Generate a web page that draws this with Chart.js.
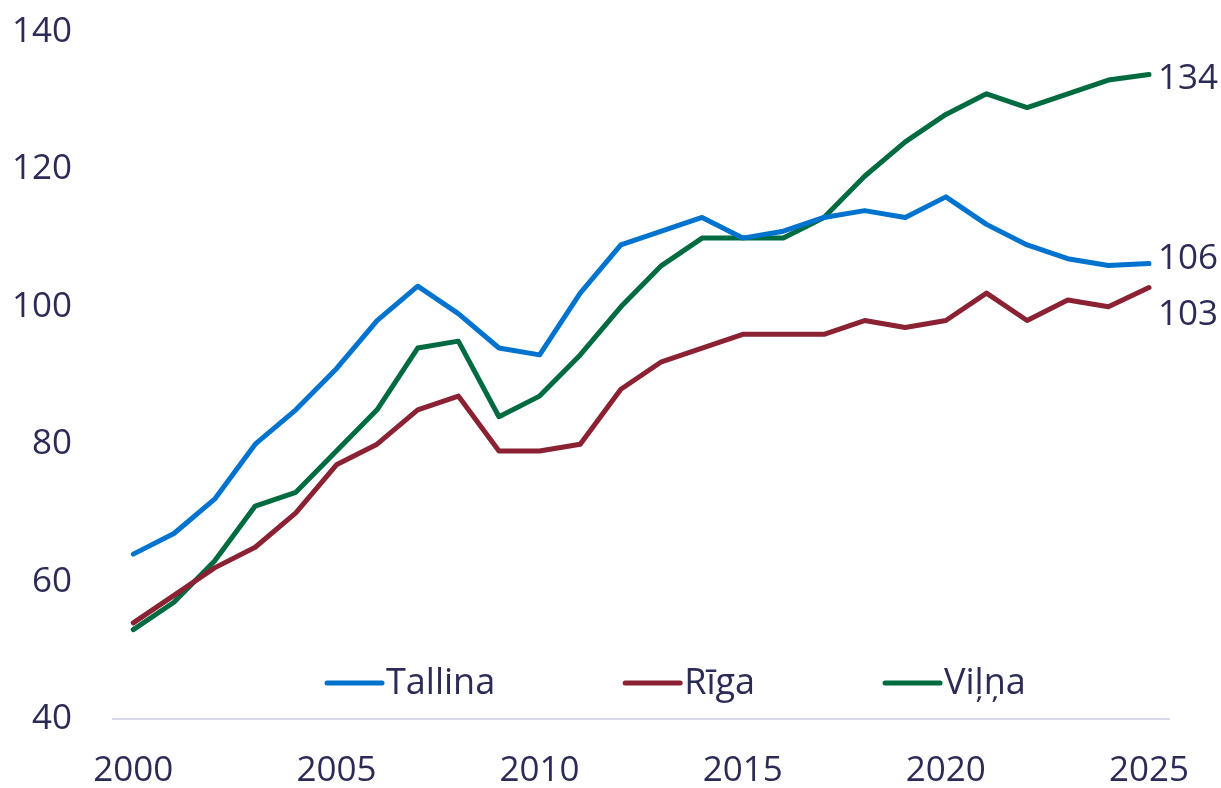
<!DOCTYPE html>
<html>
<head>
<meta charset="utf-8">
<script src="https://cdn.jsdelivr.net/npm/chart.js@4"></script>
<style>
  html, body { margin: 0; padding: 0; background: #ffffff; }
  #wrap { width: 1221px; height: 788px; }
</style>
</head>
<body>
<div id="wrap"><canvas id="chart" width="1221" height="788"></canvas></div>
<script>
// years on the x axis
const years = [
  '2000', '2001', '2002', '2003', '2004', '2005', '2006', '2007', '2008',
  '2009', '2010', '2011', '2012', '2013', '2014', '2015', '2016', '2017',
  '2018', '2019', '2020', '2021', '2022', '2023', '2024', '2025'
];

const tallina = [64, 67, 72, 80, 85, 91, 98, 103, 99, 94, 93, 102, 109, 111, 113, 110, 111, 113, 114, 113, 116, 112, 109, 107, 106, 106.3];
const riga = [54, 58, 62, 65, 70, 77, 80, 85, 87, 79, 79, 80, 88, 92, 94, 96, 96, 96, 98, 97, 98, 102, 98, 101, 100, 102.8];
const vilna = [53, 57, 63, 71, 73, 79, 85, 94, 95, 84, 87, 93, 100, 106, 110, 110, 110, 113, 119, 124, 128, 131, 129, 131, 133, 133.8];

const yTicks = [40, 60, 80, 100, 120, 140];

const TEXT = '#2b2b55';
const FONT = "'Open Sans', 'Noto Sans', sans-serif";

// legend drawn inside the plot area, near the bottom
const insideLegend = {
  id: 'insideLegend',
  afterDatasetsDraw(chart) {
    const ctx = chart.ctx;
    const area = chart.chartArea;
    let x = area.left + 214;
    const y = area.bottom - 36;
    ctx.save();
    ctx.font = '36px ' + FONT;
    ctx.textBaseline = 'middle';
    ctx.textAlign = 'left';
    chart.data.datasets.forEach(ds => {
      ctx.strokeStyle = ds.borderColor;
      ctx.lineWidth = 5;
      ctx.lineCap = 'round';
      ctx.beginPath();
      ctx.moveTo(x, y);
      ctx.lineTo(x + 55, y);
      ctx.stroke();
      ctx.fillStyle = TEXT;
      ctx.fillText(ds.label, x + 59, y + 1);
      x += 59 + ctx.measureText(ds.label).width + 130;
    });
    ctx.restore();
  }
};

// last value of each series written right of the line end
const endLabels = {
  id: 'endLabels',
  afterDatasetsDraw(chart) {
    const ctx = chart.ctx;
    const minGap = 56;
    const items = chart.data.datasets.map((ds, i) => {
      const meta = chart.getDatasetMeta(i);
      const pt = meta.data[meta.data.length - 1];
      return { x: pt.x, y: pt.y, text: String(Math.round(ds.data[ds.data.length - 1])) };
    }).sort((a, b) => a.y - b.y);
    // push overlapping labels apart, mostly moving the lower one
    for (let i = 1; i < items.length; i++) {
      const gap = items[i].y - items[i - 1].y;
      if (gap < minGap) {
        const need = minGap - gap;
        items[i - 1].y -= need * 0.25;
        items[i].y += need * 0.75;
      }
    }
    ctx.save();
    ctx.font = '35px ' + FONT;
    ctx.fillStyle = TEXT;
    ctx.textAlign = 'left';
    ctx.textBaseline = 'middle';
    items.forEach(it => ctx.fillText(it.text, it.x + 9, it.y + 4));
    ctx.restore();
  }
};

function makeSet(label, data, color) {
  return {
    label: label,
    data: data,
    borderColor: color,
    backgroundColor: color,
    borderWidth: 5,
    pointRadius: 0,
    tension: 0,
    fill: false,
    borderCapStyle: 'round',
    borderJoinStyle: 'round'
  };
}

const ctx = document.getElementById('chart').getContext('2d');
new Chart(ctx, {
  type: 'line',
  data: {
    labels: years,
    datasets: [
      makeSet('Tallina', tallina, '#0073cf'),
      makeSet('Rīga', riga, '#8a2233'),
      makeSet('Viļņa', vilna, '#006a41')
    ]
  },
  options: {
    responsive: false,
    animation: false,
    layout: { padding: { top: 32, right: 51, left: 0, bottom: 0 } },
    plugins: {
      legend: { display: false },
      tooltip: { enabled: false }
    },
    scales: {
      x: {
        offset: true,
        grid: { display: false, drawTicks: false },
        border: { display: true, color: '#d9d9ec', width: 2 },
        ticks: {
          autoSkip: false,
          maxRotation: 0,
          padding: 31,
          color: TEXT,
          font: { family: FONT, size: 35 },
          callback: function(value, index) {
            const y = years[index];
            return Number(y) % 5 === 0 ? y : '';
          }
        },
        afterFit(scale) { scale.height = 69; }
      },
      y: {
        min: 40,
        max: 140,
        grid: { display: false, drawTicks: false },
        border: { display: false },
        afterBuildTicks(scale) { scale.ticks = yTicks.map(v => ({ value: v })); },
        ticks: {
          padding: 41,
          color: TEXT,
          font: { family: FONT, size: 35 }
        },
        afterFit(scale) {
          scale.width = 113;
          scale.paddingTop = 0;
          scale.paddingBottom = 0;
        }
      }
    }
  },
  plugins: [insideLegend, endLabels]
});
</script>
</body>
</html>
